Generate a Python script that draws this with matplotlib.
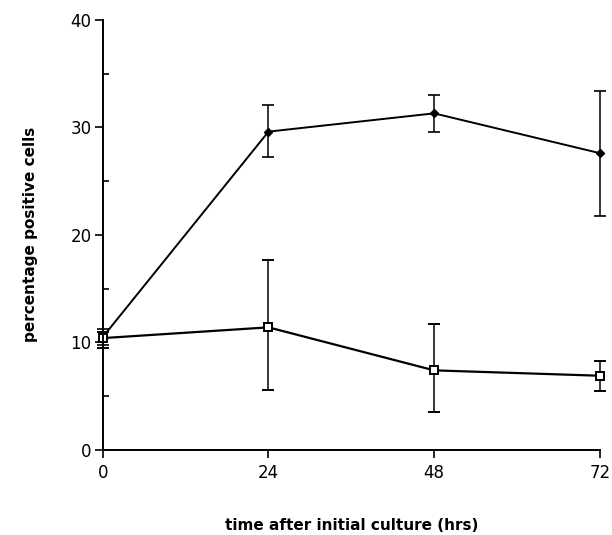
import matplotlib.pyplot as plt
from matplotlib.ticker import MultipleLocator

hours = [0, 24, 48, 72]

filled_mean = [10.5, 29.6, 31.3, 27.6]
filled_low = [9.8, 27.2, 29.6, 21.8]
filled_high = [11.2, 32.1, 33.0, 33.4]

open_mean = [10.4, 11.4, 7.4, 6.9]
open_low = [9.5, 5.6, 3.5, 5.5]
open_high = [11.0, 17.7, 11.7, 8.3]


def yerr(mean, low, high):
    return [[m - l for m, l in zip(mean, low)], [h - m for m, h in zip(mean, high)]]


fig = plt.figure(figsize=(6.12, 5.35), dpi=100)
ax = fig.add_axes([0.168, 0.159, 0.812, 0.804])

series = [
    (filled_mean, filled_low, filled_high, dict(marker='D', ms=4.5, mfc='black', lw=1.4)),
    (open_mean, open_low, open_high, dict(marker='s', ms=6, mfc='white', mew=1.4, lw=1.6)),
]
for mean, low, high, style in series:
    cont = ax.errorbar(hours, mean, yerr=yerr(mean, low, high), color='black', mec='black',
                       ecolor='black', elinewidth=1.1, capsize=4, capthick=1.2, **style)
    for artist in cont.lines[:1] + tuple(cont.lines[1]) + tuple(cont.lines[2]):
        artist.set_clip_on(False)

ax.set_xlim(0, 72)
ax.set_ylim(0, 40)
ax.set_xticks(hours)
ax.yaxis.set_major_locator(MultipleLocator(10))
ax.yaxis.set_minor_locator(MultipleLocator(5))
ax.tick_params(axis='y', which='major', direction='out', length=6, width=1.2, labelsize=12, pad=2)
ax.tick_params(axis='y', which='minor', direction='in', length=4, width=1.2)
ax.tick_params(axis='x', which='major', direction='out', length=6, width=1.2, labelsize=12, pad=4)

for s in ['top', 'right']:
    ax.spines[s].set_visible(False)
for s in ['left', 'bottom']:
    ax.spines[s].set_linewidth(1.4)

ax.set_ylabel('percentage positive cells', fontsize=11, fontweight='semibold')
ax.set_xlabel('time after initial culture (hrs)', fontsize=11, fontweight='semibold', labelpad=26)
ax.yaxis.set_label_coords(-0.13, 0.5)

fig.savefig('out.png', dpi=100)
